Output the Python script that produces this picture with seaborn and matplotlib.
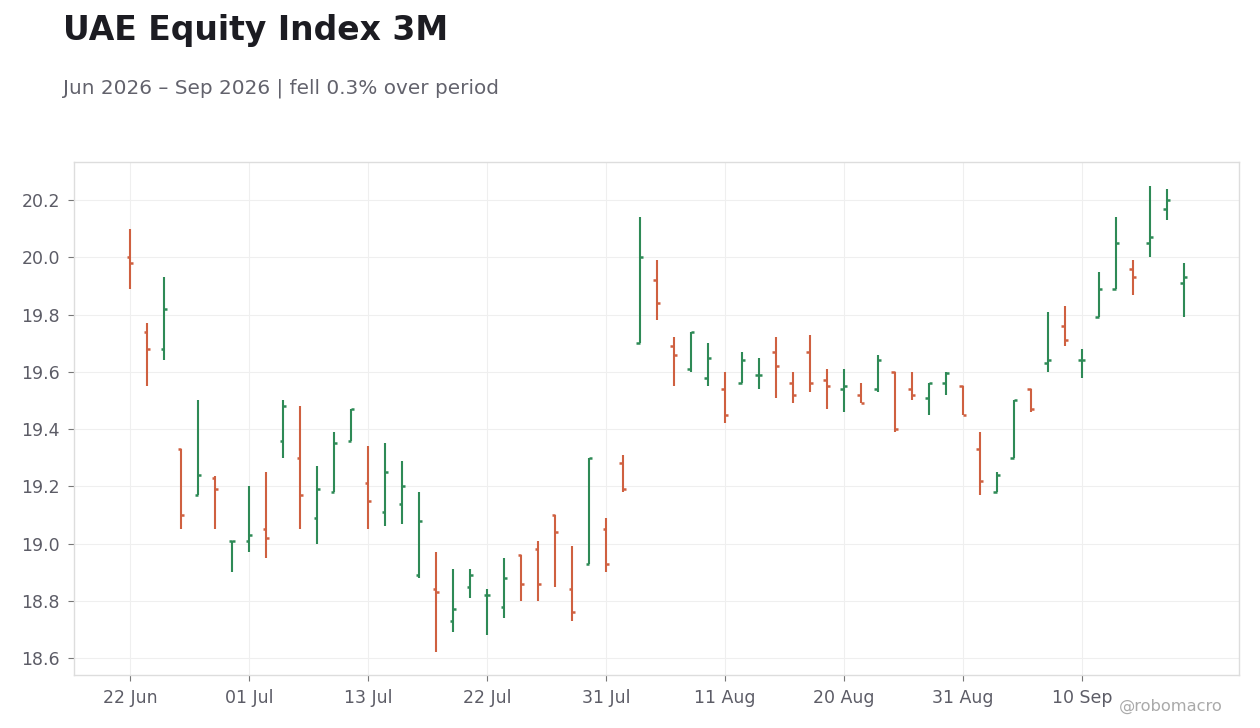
import pandas as pd
import numpy as np
import seaborn as sns
import matplotlib.pyplot as plt

# daily OHLC (US business days)
dates = pd.bdate_range("2026-06-22", "2026-09-18", freq="C",
                       holidays=["2026-07-03", "2026-09-07"])

opens = [20.00, 19.74, 19.68, 19.33, 19.17, 19.23, 19.01, 19.01, 19.05, 19.36,
         19.30, 19.09, 19.18, 19.36, 19.21, 19.11, 19.14, 18.89, 18.84, 18.73,
         18.85, 18.82, 18.78, 18.96, 18.98, 19.10, 18.84, 18.93, 19.05, 19.28,
         19.70, 19.92, 19.69, 19.61, 19.58, 19.54, 19.56, 19.59, 19.67, 19.56,
         19.67, 19.57, 19.54, 19.52, 19.54, 19.60, 19.54, 19.51, 19.56, 19.55,
         19.33, 19.18, 19.30, 19.54, 19.63, 19.76, 19.64, 19.79, 19.89, 19.96,
         20.05, 20.17, 19.91]
highs = [20.10, 19.77, 19.93, 19.33, 19.50, 19.235, 19.01, 19.20, 19.25, 19.50,
         19.48, 19.27, 19.39, 19.47, 19.34, 19.35, 19.29, 19.18, 18.97, 18.91,
         18.91, 18.84, 18.95, 18.96, 19.01, 19.10, 18.99, 19.30, 19.09, 19.31,
         20.14, 19.99, 19.72, 19.74, 19.70, 19.60, 19.67, 19.65, 19.72, 19.60,
         19.73, 19.61, 19.61, 19.56, 19.66, 19.60, 19.60, 19.56, 19.60, 19.55,
         19.39, 19.25, 19.50, 19.54, 19.81, 19.83, 19.68, 19.95, 20.14, 19.99,
         20.25, 20.24, 19.98]
lows = [19.89, 19.55, 19.64, 19.05, 19.17, 19.05, 18.90, 18.97, 18.95, 19.30,
        19.05, 19.00, 19.18, 19.36, 19.05, 19.06, 19.07, 18.88, 18.62, 18.69,
        18.81, 18.68, 18.74, 18.80, 18.80, 18.85, 18.73, 18.93, 18.90, 19.18,
        19.70, 19.78, 19.55, 19.60, 19.55, 19.42, 19.56, 19.54, 19.51, 19.49,
        19.53, 19.47, 19.46, 19.49, 19.53, 19.39, 19.50, 19.45, 19.52, 19.45,
        19.17, 19.18, 19.30, 19.46, 19.60, 19.69, 19.58, 19.79, 19.89, 19.87,
        20.00, 20.13, 19.79]
closes = [19.98, 19.68, 19.82, 19.10, 19.24, 19.19, 19.01, 19.03, 19.02, 19.48,
          19.17, 19.19, 19.35, 19.47, 19.15, 19.25, 19.20, 19.08, 18.83, 18.77,
          18.89, 18.82, 18.88, 18.86, 18.86, 19.04, 18.76, 19.30, 18.93, 19.19,
          20.00, 19.84, 19.66, 19.74, 19.65, 19.45, 19.64, 19.59, 19.62, 19.52,
          19.56, 19.55, 19.55, 19.49, 19.64, 19.40, 19.52, 19.56, 19.595, 19.45,
          19.22, 19.24, 19.50, 19.47, 19.64, 19.71, 19.64, 19.89, 20.05, 19.93,
          20.07, 20.20, 19.93]

y_ticks = [18.6, 18.8, 19.0, 19.2, 19.4, 19.6, 19.8, 20.0, 20.2]

UP = "#2e8a56"
DOWN = "#cf6040"

df = pd.DataFrame({"open": opens, "high": highs, "low": lows, "close": closes})
df["x"] = np.arange(len(df))
df["color"] = np.where(df["close"] >= df["open"], UP, DOWN)

sns.set_theme(style="whitegrid")
plt.rcParams["font.family"] = ["DejaVu Sans"]

fig = plt.figure(figsize=(12.6, 7.28), dpi=100)
ax = fig.add_axes([0.0587, 0.0728, 0.9246, 0.7047])

tick_w = 0.2
ax.vlines(df["x"], df["low"], df["high"], colors=df["color"], linewidth=1.5)
ax.hlines(df["open"], df["x"] - tick_w, df["x"], colors=df["color"], linewidth=1.8)
ax.hlines(df["close"], df["x"], df["x"] + tick_w, colors=df["color"], linewidth=1.8)

ax.set_xlim(-3.3, 65.25)
ax.set_ylim(18.541, 20.333)

tick_pos = list(range(0, len(df), 7))
ax.set_xticks(tick_pos)
ax.set_xticklabels([dates[i].strftime("%d %b") for i in tick_pos])
ax.set_yticks(y_ticks)
ax.set_yticklabels([f"{v:.1f}" for v in y_ticks])

ax.set_facecolor("white")
ax.grid(True, color="#efefef", linewidth=0.8)
for s in ax.spines.values():
    s.set_visible(True)
    s.set_color("#dddddd")
    s.set_linewidth(1.0)
ax.tick_params(axis="both", labelsize=12.5, labelcolor="#5c5c66", color="#777777",
               length=4, width=0.8, direction="out", bottom=True, left=True, pad=6)

fig.text(0.05, 0.945, "UAE Equity Index 3M", fontsize=23.8, fontweight="bold",
         color="#1c1c22", ha="left", va="baseline")
fig.text(0.05, 0.872, "Jun 2026 \u2013 Sep 2026 | fell 0.3% over period", fontsize=14.4,
         color="#62626c", ha="left", va="baseline")
fig.text(0.97, 0.023, "@robomacro", fontsize=11.7, color="#aaaaaa",
         ha="right", va="baseline")

fig.savefig("out.png", dpi=100, facecolor="white")
plt.close(fig)
